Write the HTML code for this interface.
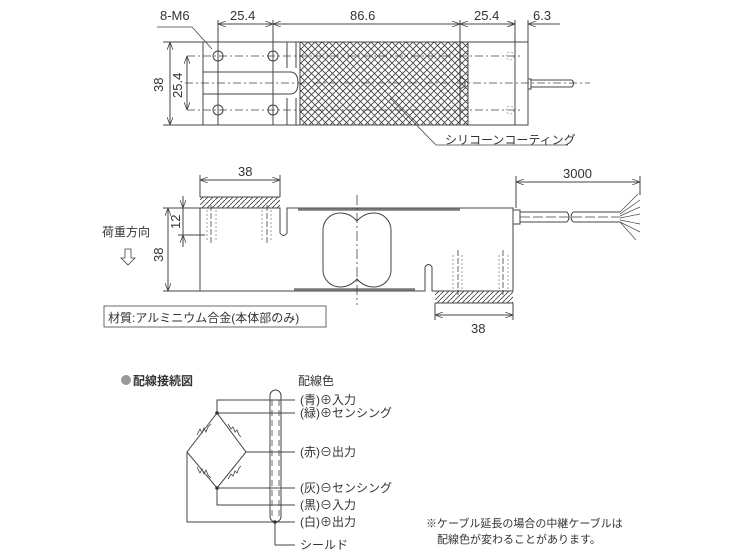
<!DOCTYPE html>
<html><head><meta charset="utf-8"><style>
html,body{margin:0;padding:0;background:#fff;}
svg{display:block;}
text{font-family:"Liberation Sans","Noto Sans CJK JP",sans-serif;fill:#333;}
</style></head><body>
<svg width="745" height="560" viewBox="0 0 745 560" xmlns="http://www.w3.org/2000/svg">
<defs>
<pattern id="xh" width="7" height="7" patternUnits="userSpaceOnUse">
<path d="M0,0 L7,7 M7,0 L0,7" stroke="#444" stroke-width="0.9"/>
</pattern>
<pattern id="dh" width="5" height="5" patternUnits="userSpaceOnUse">
<path d="M0,5 L5,0" stroke="#444" stroke-width="0.9"/>
</pattern>
<marker id="a" markerWidth="8" markerHeight="6" refX="8" refY="3" orient="auto-start-reverse" markerUnits="userSpaceOnUse"><path d="M0,0 L8,3 L0,6" fill="none" stroke="#444" stroke-width="0.8"/></marker>
</defs>
<g stroke="#444" stroke-width="1" fill="none">
<!-- TOP VIEW -->
<rect x="203" y="42" width="325" height="83"/>
<rect x="300" y="42" width="168" height="83" fill="url(#xh)"/>
<line x1="287" y1="42" x2="287" y2="68"/><line x1="287" y1="98" x2="287" y2="125"/>
<line x1="296" y1="42" x2="296" y2="68"/><line x1="296" y1="98" x2="296" y2="125"/>
<path d="M203,72 H290 Q298,72 298,83 Q298,94 290,94 H203"/>
<line x1="460" y1="20" x2="460" y2="125"/>
<line x1="515" y1="20" x2="515" y2="125"/>
<line x1="528" y1="20" x2="528" y2="42"/>
<line x1="218" y1="20" x2="218" y2="125"/>
<line x1="273" y1="20" x2="273" y2="125"/>
<circle cx="218" cy="56" r="5"/><circle cx="273" cy="56" r="5"/>
<circle cx="218" cy="110" r="5"/><circle cx="273" cy="110" r="5"/>
<path d="M460,77 L465,80 L465,86 L460,89" />
<g stroke-dasharray="8,3,2,3" stroke-width="0.8">
<line x1="185" y1="83" x2="590" y2="83"/>
<line x1="187" y1="56" x2="520" y2="56"/>
<line x1="187" y1="110" x2="520" y2="110"/>
</g>
<g stroke-dasharray="2,2" stroke-width="0.7" stroke="#888">
<circle cx="510" cy="56" r="4"/><circle cx="510" cy="110" r="4"/>
</g>
<rect x="528" y="79" width="3" height="10"/>
<path d="M531,80 H572 M531,87 H572 M572,80 Q575,83.5 572,87"/>
<line x1="163" y1="42" x2="203" y2="42"/><line x1="163" y1="125" x2="203" y2="125"/>
<line x1="170" y1="42" x2="170" y2="125" marker-start="url(#a)" marker-end="url(#a)"/>
<line x1="187" y1="56" x2="187" y2="110" marker-start="url(#a)" marker-end="url(#a)"/>
<line x1="218" y1="24" x2="273" y2="24" marker-start="url(#a)" marker-end="url(#a)"/>
<line x1="273" y1="24" x2="460" y2="24" marker-start="url(#a)" marker-end="url(#a)"/>
<line x1="460" y1="24" x2="515" y2="24" marker-start="url(#a)" marker-end="url(#a)"/>
<line x1="528" y1="24" x2="560" y2="24" marker-start="url(#a)"/>
<line x1="500" y1="24" x2="515" y2="24" marker-end="url(#a)"/>
<path d="M157,27 H192 L212,49" stroke-width="0.8"/>
<path d="M390,98 L436,145 H568" stroke-width="0.8"/>

<!-- SIDE VIEW -->
<path d="M200,208 H280 V233 Q283.5,238 287,233 V208 H513 V291 H432 V267 Q428.5,262 425,267 V291 H200 Z"/>
<rect x="200" y="197" width="80" height="11" fill="url(#dh)" stroke="none"/>
<line x1="200" y1="197" x2="280" y2="197"/>
<rect x="435" y="291" width="78" height="12" fill="url(#dh)" stroke="none"/>
<line x1="435" y1="303" x2="513" y2="303"/>
<line x1="298" y1="209.5" x2="460" y2="209.5" stroke-width="2.5" stroke="#777"/>
<line x1="294" y1="289.5" x2="415" y2="289.5" stroke-width="2.5" stroke="#777"/>
<path d="M340,213 A17,17 0 0 0 323,230 V270 A17,17 0 0 0 340,287 Q350,287 357,279 Q364,287 374,287 A17,17 0 0 0 391,270 V230 A17,17 0 0 0 374,213 Q364,213 357,221 Q350,213 340,213 Z"/>
<line x1="357" y1="195" x2="357" y2="305" stroke-dasharray="10,3,2,3" stroke-width="0.8"/>
<g stroke-dasharray="2,2" stroke-width="0.7" stroke="#777">
<path d="M207,210 V240 M216,210 V240 M262,210 V240 M271,210 V240"/>
<path d="M453,255 V290 M462,255 V290 M499,255 V290 M508,255 V290"/>
</g>
<g stroke-dasharray="6,2" stroke-width="0.8">
<path d="M211,205 V245 M267,205 V245 M458,250 V295 M503,250 V295"/>
</g>
<rect x="513" y="210" width="7" height="14"/>
<path d="M520,212 H567 M520,222 H567 M567,212 Q571,217 567,222 M573,212 Q569,217 573,222 M573,212 H620 M573,222 H620"/>
<line x1="520" y1="217" x2="620" y2="217" stroke-dasharray="10,3" stroke-width="0.7"/>
<path d="M620,212 L638,194 M620,214 L640,200 M620,216 L640,207 M620,218 L640,214 M620,220 L640,224 M620,222 L640,232 M620,222 L636,240" stroke-width="0.7"/>
<line x1="516" y1="176" x2="516" y2="208"/><line x1="640" y1="176" x2="640" y2="195"/>
<line x1="516" y1="182" x2="640" y2="182" marker-start="url(#a)" marker-end="url(#a)"/>
<line x1="200" y1="175" x2="200" y2="197"/><line x1="280" y1="175" x2="280" y2="197"/>
<line x1="200" y1="180" x2="280" y2="180" marker-start="url(#a)" marker-end="url(#a)"/>
<line x1="435" y1="303" x2="435" y2="320"/><line x1="513" y1="303" x2="513" y2="320"/>
<line x1="435" y1="315" x2="513" y2="315" marker-start="url(#a)" marker-end="url(#a)"/>
<line x1="163" y1="208" x2="200" y2="208"/><line x1="163" y1="291" x2="200" y2="291"/>
<line x1="168" y1="208" x2="168" y2="291" marker-start="url(#a)" marker-end="url(#a)"/>
<line x1="178" y1="235" x2="205" y2="235"/>
<line x1="183" y1="196" x2="183" y2="208" marker-end="url(#a)"/>
<line x1="183" y1="247" x2="183" y2="235" marker-end="url(#a)"/>
<line x1="183" y1="208" x2="183" y2="235"/>
<path d="M125,249 H131 V258 H135 L128,265 L121,258 H125 Z" stroke-width="0.8"/>
<rect x="104" y="306" width="222" height="21" stroke-width="0.8"/>

<!-- WIRING -->
<rect x="270" y="390" width="11" height="132" rx="5.5"/>
<g stroke-dasharray="6,4" stroke-width="0.8"><line x1="272" y1="400" x2="272" y2="520"/><line x1="279" y1="400" x2="279" y2="520"/></g>
<path d="M217,413 V400 H295 M217,413 H295 M246,452 H295 M217,488 H295 M217,488 V505 H295 M187,452 V522 H295"/>
<path d="M217,413 L187,452 L217,488 L246,452 Z"/>
<path d="M275,522 V545 H295"/>
</g>
<g fill="#333"><circle cx="217" cy="413" r="1.8"/><circle cx="217" cy="488" r="1.8"/><circle cx="275" cy="522" r="1.8"/></g>
<g fill="#fff" stroke="#444" stroke-width="0.8">
<path d="M197,435 l3,-6 l2,4 l2,-5 l2,4 l2,-5 l3,-3" />
<path d="M228,424 l3,5 l2,-2 l2,5 l2,-2 l2,5 l2,2"/>
<path d="M197,467 l3,6 l2,-4 l2,5 l2,-4 l2,5 l3,3"/>
<path d="M228,479 l3,-5 l2,2 l2,-5 l2,2 l2,-5 l2,-2"/>
</g>
<circle cx="126" cy="380" r="5" fill="#999"/>

<!-- TEXT -->
<g font-size="13">
<text x="160" y="20">8-M6</text>
<text x="230" y="20">25.4</text>
<text x="350" y="20">86.6</text>
<text x="474" y="20">25.4</text>
<text x="533" y="20">6.3</text>
<text x="238" y="176">38</text>
<text x="563" y="178">3000</text>
<text x="471" y="333">38</text>
<text transform="translate(163,92) rotate(-90)">38</text>
<text transform="translate(182,98) rotate(-90)">25.4</text>
<text transform="translate(163,262) rotate(-90)">38</text>
<text transform="translate(180,229) rotate(-90)">12</text>
<text x="445" y="144" font-size="12">シリコーンコーティング</text>
<text x="102" y="236" font-size="12">荷重方向</text>
<text x="108" y="322" font-size="12">材質:アルミニウム合金(本体部のみ)</text>
<text x="133" y="385" font-weight="bold" font-size="12">配線接続図</text>
<text x="298" y="385" font-size="12">配線色</text>
<g font-size="12">
<text x="300" y="404">(青)⊕入力</text>
<text x="300" y="417">(緑)⊕センシング</text>
<text x="300" y="456">(赤)⊖出力</text>
<text x="300" y="492">(灰)⊖センシング</text>
<text x="300" y="509">(黒)⊖入力</text>
<text x="300" y="526">(白)⊕出力</text>
<text x="300" y="549">シールド</text>
</g>
<text x="426" y="527" font-size="11">※ケーブル延長の場合の中継ケーブルは</text>
<text x="437" y="543" font-size="11">配線色が変わることがあります。</text>
</g>
</svg>
</body></html>
